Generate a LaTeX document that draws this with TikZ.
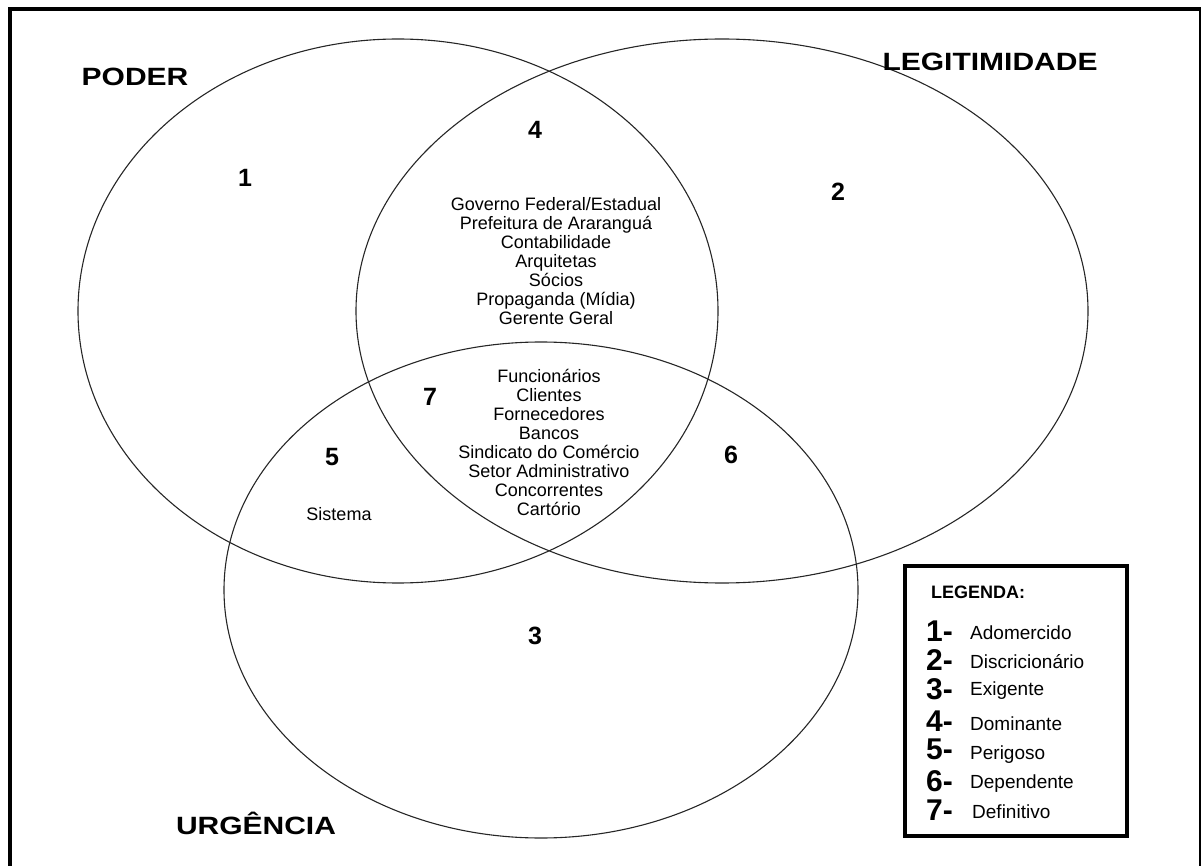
\documentclass[tikz,border=0pt]{standalone}
\usepackage{graphicx}
\usepackage{fontspec}
\setmainfont{Liberation Sans}
% wide bold lettering used for the set titles
\newcommand{\widetitle}[1]{\scalebox{1.2}[1]{#1}}
\begin{document}
\begin{tikzpicture}[x=1pt,y=-1pt,
  set/.style={draw=black!85,line width=1.1pt},
  title/.style={font=\bfseries\fontsize{25}{27}\selectfont,inner sep=0pt},
  region/.style={font=\bfseries\fontsize{25}{27}\selectfont,inner sep=0pt},
  members/.style={font=\fontsize{18}{19}\selectfont,align=center,inner sep=0pt},
  keynum/.style={font=\bfseries\fontsize{30}{30}\selectfont,anchor=west,inner sep=0pt},
  keytext/.style={font=\fontsize{19}{20}\selectfont,anchor=west,inner sep=0pt}]
\useasboundingbox (0,0) rectangle (1202,866);

% outer frame (bottom edge runs past the page)
\draw[line width=4pt] (9.5,880) -- (9.5,9) -- (1201,9);
\draw[line width=2pt] (1200,9) -- (1200,880);

% the three attribute sets
\draw[set] (398,311) ellipse [x radius=320pt, y radius=272pt];
\draw[set] (722,311) ellipse [x radius=366pt, y radius=272pt];
\draw[set] (541,590) ellipse [x radius=317pt, y radius=248pt];

% set titles
\node[title] (poder) at (135,77) {\widetitle{PODER}};
\node[title] (legit) at (990,62) {\widetitle{LEGITIMIDADE}};
\node[title] (urg) at (256,823) {\widetitle{URGÊNCIA}};

% region numbers
\node[region] (r1) at (245,178) {1};
\node[region] (r2) at (838,192) {2};
\node[region] (r3) at (535,636) {3};
\node[region] (r4) at (535,130) {4};
\node[region] (r5) at (332,457) {5};
\node[region] (r6) at (731,455) {6};
\node[region] (r7) at (430,397) {7};

% stakeholders per region
\node[members] (m4) at (556,261) {Governo Federal/Estadual\\Prefeitura de Araranguá\\Contabilidade\\Arquitetas\\Sócios\\Propaganda (Mídia)\\Gerente Geral};
\node[members] (m7) at (549,442) {Funcionários\\Clientes\\Fornecedores\\Bancos\\Sindicato do Comércio\\Setor Administrativo\\Concorrentes\\Cartório};
\node[members] (m5) at (339,514) {Sistema};

% legend
\draw[line width=4pt] (905,566) rectangle (1127,836);
\node[font=\bfseries\fontsize{18}{20}\selectfont,anchor=west,inner sep=0pt] (lg) at (931,592) {LEGENDA:};
\node[keynum] (k1) at (926,631) {1-};
\node[keytext] (t1) at (970,633) {Adomercido};
\node[keynum] (k2) at (926,660) {2-};
\node[keytext] (t2) at (970,662) {Discricionário};
\node[keynum] (k3) at (926,689) {3-};
\node[keytext] (t3) at (970,691) {Exigente};
\node[keynum] (k4) at (926,721) {4-};
\node[keytext] (t4) at (970,724) {Dominante};
\node[keynum] (k5) at (926,749) {5-};
\node[keytext] (t5) at (970,755) {Perigoso};
\node[keynum] (k6) at (926,781) {6-};
\node[keytext] (t6) at (970,784) {Dependente};
\node[keynum] (k7) at (926,810) {7-};
\node[keytext] (t7) at (972,812) {Definitivo};
\end{tikzpicture}
\end{document}
